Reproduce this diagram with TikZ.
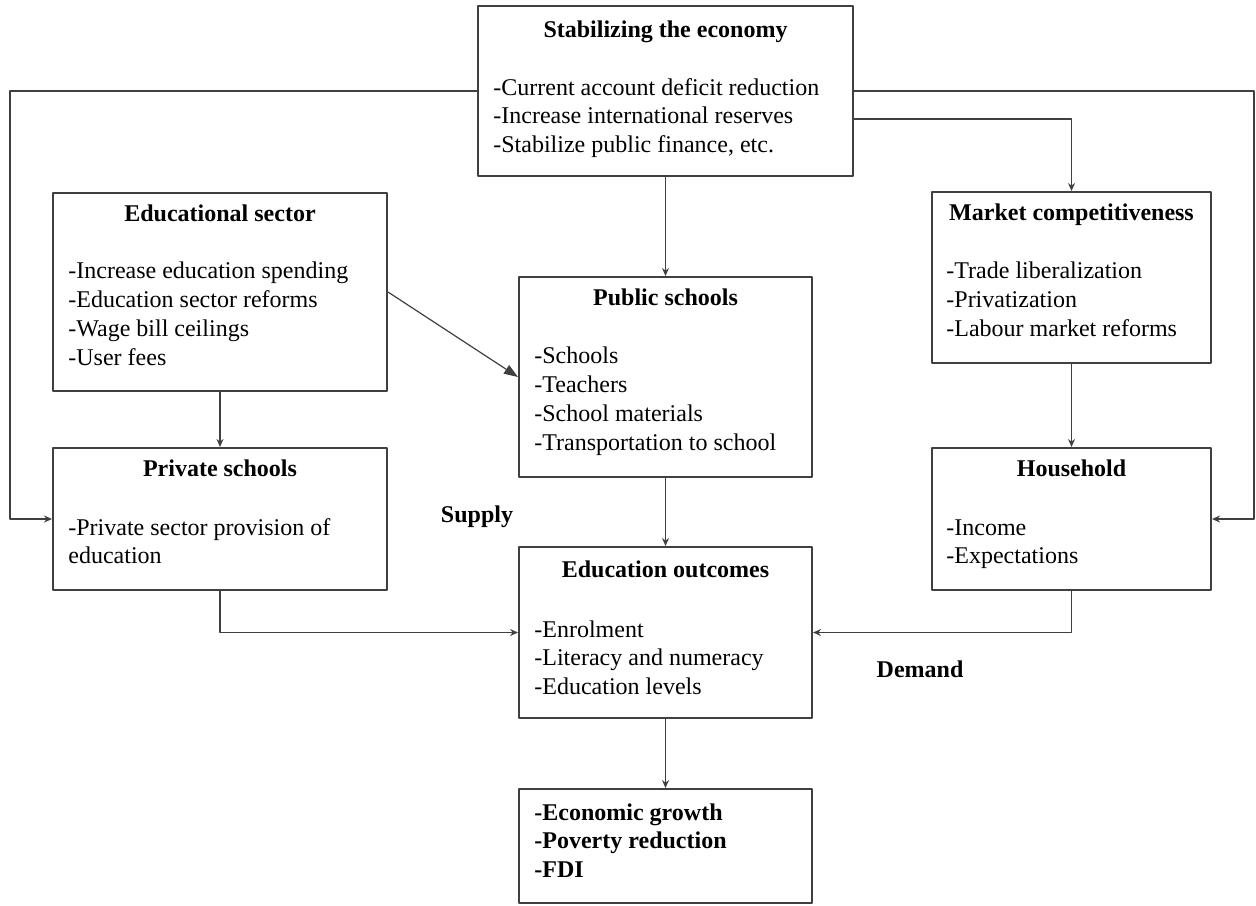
\documentclass[tikz,border=0pt]{standalone}
\usepackage{fontspec}
\setmainfont{Liberation Serif}
\usetikzlibrary{arrows.meta}

\begin{document}
\begin{tikzpicture}[x=0.5pt,y=-0.5pt, line join=round,
	box/.style={draw=black!75, line width=1pt, inner sep=0pt},
	ttl/.style={anchor=base, inner sep=0pt, font=\fontsize{12}{14}\selectfont\bfseries},
	item/.style={anchor=base west, inner sep=0pt, font=\fontsize{12}{14}\selectfont},
	bitem/.style={item, font=\fontsize{12}{14}\selectfont\bfseries},
	conn/.style={draw=black!75, line width=0.8pt, -{Stealth[length=4pt,width=3.5pt]}},
	]
	\useasboundingbox (0,0) rectangle (1256,905);
	% Khung
	\node[box, minimum width=187.5pt, minimum height=85pt] (stab) at (665.5,91) {};
	\node[box, minimum width=167pt, minimum height=99pt] (edu) at (220,292) {};
	\node[box, minimum width=146.5pt, minimum height=100pt] (pub) at (665.5,377) {};
	\node[box, minimum width=139.5pt, minimum height=85.5pt] (mkt) at (1071.5,277.5) {};
	\node[box, minimum width=167pt, minimum height=71pt] (priv) at (220,519) {};
	\node[box, minimum width=139.5pt, minimum height=71pt] (house) at (1071.5,519) {};
	\node[box, minimum width=146.5pt, minimum height=85.5pt] (outc) at (665.5,632.5) {};
	\node[box, minimum width=146.5pt, minimum height=57pt] (grow) at (665.5,846) {};
	
	% Tieu de
	\node[ttl] (stabT) at ([shift={(0,32)}]stab.north) {Stabilizing the economy};
	\node[ttl] (eduT) at ([shift={(0,29)}]edu.north) {Educational sector};
	\node[ttl] (pubT) at ([shift={(0,29)}]pub.north) {Public schools};
	\node[ttl] (mktT) at ([shift={(0,29)}]mkt.north) {Market competitiveness};
	\node[ttl] (privT) at ([shift={(0,29)}]priv.north) {Private schools};
	\node[ttl] (houseT) at ([shift={(0,29)}]house.north) {Household};
	\node[ttl] (outcT) at ([shift={(0,31)}]outc.north) {Education outcomes};
	
	% Noi dung
	\foreach \t [count=\i from 0] in {-Current account deficit reduction,-Increase international reserves,{-Stabilize public finance, etc.}}
	\node[item] (stab\i) at ([shift={(16,90+28.6*\i)}]stab.north west) {\t};
	\foreach \t [count=\i from 0] in {-Increase education spending,-Education sector reforms,-Wage bill ceilings,-User fees}
	\node[item] (edu\i) at ([shift={(16,86+29*\i)}]edu.north west) {\t};
	\foreach \t [count=\i from 0] in {-Schools,-Teachers,-School materials,-Transportation to school}
	\node[item] (pub\i) at ([shift={(16,87+29*\i)}]pub.north west) {\t};
	\foreach \t [count=\i from 0] in {-Trade liberalization,-Privatization,-Labour market reforms}
	\node[item] (mkt\i) at ([shift={(15,87+29*\i)}]mkt.north west) {\t};
	\foreach \t [count=\i from 0] in {-Private sector provision of,education}
	\node[item] (priv\i) at ([shift={(16,88+28.5*\i)}]priv.north west) {\t};
	\foreach \t [count=\i from 0] in {-Income,-Expectations}
	\node[item] (house\i) at ([shift={(15,88+28.5*\i)}]house.north west) {\t};
	\foreach \t [count=\i from 0] in {-Enrolment,-Literacy and numeracy,-Education levels}
	\node[item] (outc\i) at ([shift={(16,91+28.5*\i)}]outc.north west) {\t};
	\foreach \t [count=\i from 0] in {-Economic growth,-Poverty reduction,-FDI}
	\node[bitem] (grow\i) at ([shift={(16,32+28.5*\i)}]grow.north west) {\t};
	
	\node[ttl] (supply) at (477,522) {Supply};
	\node[ttl] (demand) at (920,677) {Demand};
	
	% Mui ten
	\coordinate (lft) at (10,519);
	\coordinate (rgt) at (1254,519);
	\draw[conn] (stab.west) -| (lft) -- (priv.west);
	\draw[conn] (stab.east) -| (rgt) -- (house.east);
	\draw[conn] ([shift={(0,28)}]stab.east) -| (mkt.north);
	\draw[conn] (stab.south) -- (pub.north);
	\draw[conn] (mkt.south) -- (house.north);
	\draw[conn] (edu.south) -- (priv.north);
	\draw[draw=black!75, line width=0.6pt, -{Triangle[length=7pt,width=5pt]}] (edu.east) -- (pub.west);
	\draw[conn] (pub.south) -- (outc.north);
	\draw[conn] (priv.south) |- (outc.west);
	\draw[conn] (house.south) |- (outc.east);
	\draw[conn] (outc.south) -- (grow.north);
\end{tikzpicture}
\end{document}
